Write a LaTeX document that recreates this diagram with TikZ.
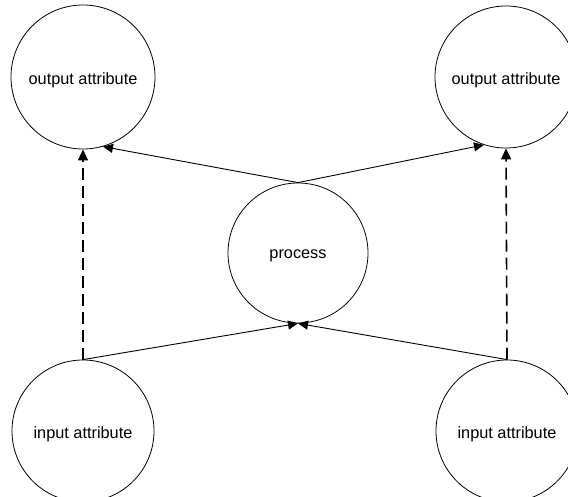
\documentclass[tikz,border=0pt]{standalone}
\usepackage{fontspec}
\setmainfont{Liberation Sans}
\usetikzlibrary{arrows.meta}
\begin{document}
\begin{tikzpicture}[x=1pt,y=-1pt,
  attr/.style={draw,circle,line width=0.8pt,inner sep=0pt,minimum size=#1,
    font=\fontsize{16.3}{19}\selectfont},
  caption/.style={label={[yshift=-3pt,font=\fontsize{16.3}{19}\selectfont]center:#1}},
  flow/.style={line width=0.9pt,-{Triangle[length=10pt,width=9pt]}},
  derive/.style={line width=1.6pt,dash pattern=on 12pt off 6pt,
    -{Triangle[length=11pt,width=10pt]}}]
  \useasboundingbox (0,0) rectangle (568,497);
  \node[attr=144pt,caption=output attribute] (outL) at (83,77) {};
  \node[attr=142pt,caption=output attribute] (outR) at (506,77) {};
  \node[attr=140pt,caption=process] (proc) at (298,253) {};
  \node[attr=142pt,caption=input attribute] (inL) at (83,431) {};
  \node[attr=142pt,caption=input attribute] (inR) at (507,431) {};
  % inputs feed the process
  \draw[flow] (inL.north) -- (proc.south);
  \draw[flow] (inR.north) -- (proc.south);
  % process yields the outputs
  \draw[flow] (proc.north) -- (outL.-74);
  \draw[flow] (proc.north) -- (outR.-108);
  % direct derivation of each output from its input
  \draw[derive] (inL.north) -- (outL.south);
  \draw[derive] (inR.north) -- (outR.south);
\end{tikzpicture}
\end{document}
